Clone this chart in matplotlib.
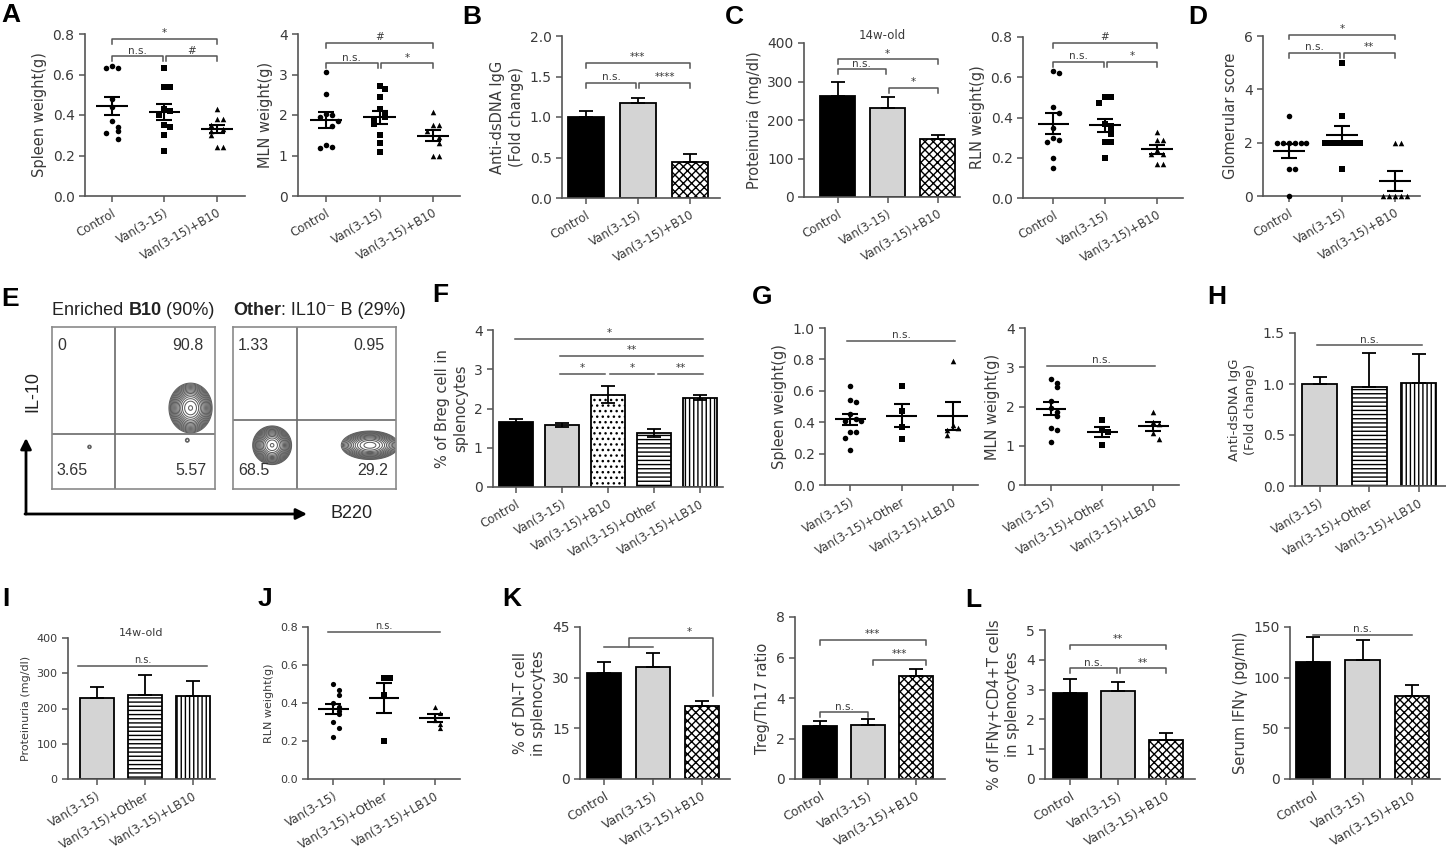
import numpy as np
import matplotlib
matplotlib.use("Agg")
import matplotlib.pyplot as plt

plt.rcParams["font.family"] = ["DejaVu Sans"]
plt.rcParams["hatch.linewidth"] = 1.0

W, H = 1446, 861
AX = "#555555"
TXT = "#3a3a3a"
GREY = "#d4d4d4"
SANS = ["Liberation Sans", "DejaVu Sans"]

# =========================================================
# DATA
# =========================================================

grp3 = ["Control", "Van(3-15)", "Van(3-15)+B10"]
grp3b = ["Van(3-15)", "Van(3-15)+Other", "Van(3-15)+LB10"]
grp5 = ["Control", "Van(3-15)", "Van(3-15)+B10", "Van(3-15)+Other", "Van(3-15)+LB10"]

# A
a_spleen_ctrl = [0.64, 0.63, 0.63, 0.48, 0.44, 0.37, 0.34, 0.32, 0.31, 0.28]
a_spleen_van = [0.63, 0.54, 0.54, 0.43, 0.42, 0.40, 0.35, 0.34, 0.30, 0.22]
a_spleen_b10 = [0.43, 0.38, 0.38, 0.35, 0.33, 0.32, 0.30, 0.24, 0.24]
a_mln_ctrl = [3.05, 2.53, 2.02, 2.00, 1.95, 1.85, 1.72, 1.25, 1.20, 1.18]
a_mln_van = [2.72, 2.65, 2.45, 2.15, 2.00, 1.95, 1.85, 1.78, 1.50, 1.30, 1.08]
a_mln_b10 = [2.08, 1.75, 1.75, 1.60, 1.46, 1.30, 1.00, 1.00]

# B
b_igg_mean = [1.00, 1.17, 0.44]
b_igg_err = [0.07, 0.07, 0.10]

# C
c_prot_mean = [262, 230, 150]
c_prot_err = [37, 30, 10]
c_rln_ctrl = [0.63, 0.62, 0.45, 0.42, 0.35, 0.30, 0.29, 0.28, 0.20, 0.15]
c_rln_van = [0.50, 0.50, 0.47, 0.37, 0.36, 0.33, 0.32, 0.28, 0.28, 0.20]
c_rln_b10 = [0.33, 0.29, 0.29, 0.24, 0.22, 0.22, 0.17, 0.17]

# D
d_ctrl = [3, 2, 2, 2, 2, 2, 2, 1, 1, 0]
d_van = [5, 3, 2, 2, 2, 2, 2, 2, 2, 1]
d_b10 = [2, 2, 0, 0, 0, 0, 0]

# E  (population centre x, centre y, spread x, spread y, weight) in gate units
e_b10_pops = [(0.85, 0.50, 0.05, 0.058, 1.0), (0.23, 0.26, 0.012, 0.012, 0.045), (0.83, 0.30, 0.012, 0.012, 0.045)]
e_other_pops = [(0.24, 0.27, 0.045, 0.045, 1.0), (0.84, 0.27, 0.07, 0.035, 0.7)]
e_b10_quads = ["0", "90.8", "3.65", "5.57"]
e_other_quads = ["1.33", "0.95", "68.5", "29.2"]

# F
f_breg_mean = [1.65, 1.58, 2.35, 1.38, 2.28]
f_breg_err = [0.09, 0.05, 0.22, 0.10, 0.07]

# G
g_spleen_van = [0.63, 0.54, 0.53, 0.45, 0.42, 0.41, 0.41, 0.34, 0.34, 0.30, 0.22]
g_spleen_other = [0.63, 0.47, 0.37, 0.29]
g_spleen_lb10 = [0.79, 0.38, 0.36, 0.35, 0.32]
g_mln_van = [2.70, 2.60, 2.50, 2.15, 1.95, 1.85, 1.75, 1.45, 1.40, 1.10]
g_mln_other = [1.65, 1.40, 1.35, 1.02]
g_mln_lb10 = [1.85, 1.60, 1.55, 1.32, 1.17]

# H
h_igg_mean = [1.00, 0.97, 1.01]
h_igg_err = [0.07, 0.33, 0.28]

# I
i_prot_mean = [230, 237, 235]
i_prot_err = [30, 58, 42]

# J
j_rln_van = [0.50, 0.47, 0.44, 0.40, 0.38, 0.36, 0.34, 0.30, 0.27, 0.22]
j_rln_other = [0.53, 0.53, 0.44, 0.20]
j_rln_lb10 = [0.38, 0.35, 0.31, 0.29, 0.27]

# K
k_dnt_mean = [31.5, 33.2, 21.5]
k_dnt_err = [3.0, 4.0, 1.5]
k_ratio_mean = [2.6, 2.65, 5.1]
k_ratio_err = [0.25, 0.30, 0.35]

# L
l_ifn_mean = [2.9, 2.95, 1.3]
l_ifn_err = [0.45, 0.30, 0.25]
l_serum_mean = [115, 117, 82]
l_serum_err = [25, 20, 11]

# =========================================================
# HELPERS
# =========================================================

fig = plt.figure(figsize=(W / 100, H / 100), dpi=100)
ov = fig.add_axes([0, 0, 1, 1])
ov.set_xlim(0, W)
ov.set_ylim(H, 0)
ov.axis("off")

BAR = {"ctrl": ("black", ""), "van": (GREY, ""), "b10": ("white", "xxxx"),
       "dots": ("white", "..."), "other": ("white", "----"), "lb10": ("white", "||||")}


def panel(x0, x1, ytop, ybot, xlim, ylim, yticks, ylabel, xlabels,
          lab_fs=8.5, tick_fs=10, ylab_fs=10.5):
    ax = fig.add_axes([x0 / W, 1 - ybot / H, (x1 - x0) / W, (ybot - ytop) / H])
    ax.patch.set_visible(False)
    ax.spines[["top", "right"]].set_visible(False)
    for s in ("left", "bottom"):
        ax.spines[s].set_color(AX)
        ax.spines[s].set_linewidth(1.2)
    ax.set_xlim(xlim)
    ax.set_ylim(ylim)
    ax.set_yticks([float(t) for t in yticks])
    ax.set_yticklabels(yticks)
    ax.set_xticks(range(len(xlabels)))
    ax.set_xticklabels(xlabels, rotation=30, ha="right", va="top",
                       rotation_mode="anchor", fontsize=lab_fs)
    ax.tick_params(axis="both", colors=AX, labelcolor=TXT, length=4, width=1.1)
    ax.tick_params(axis="y", labelsize=tick_fs)
    ax.set_ylabel(ylabel, fontsize=ylab_fs, color=TXT, linespacing=1.3)
    return ax


def swarm(vals, span, dx=0.11, tol=0.045):
    offs = np.zeros(len(vals))
    for i in range(len(vals)):
        n = int(np.sum(np.abs(vals[:i] - vals[i]) < tol * span))
        offs[i] = ((n + 1) // 2) * dx * (1 if n % 2 else -1)
    return offs


def dots(ax, groups, markers, ms=16):
    span = ax.get_ylim()[1]
    for i, (vals, m) in enumerate(zip(groups, markers)):
        v = np.asarray(vals, dtype=float)
        ax.scatter(i + swarm(v, span), v, marker=m, s=ms, color="black",
                   linewidths=0, zorder=3, clip_on=False)
        mu = v.mean()
        se = v.std(ddof=1) / np.sqrt(len(v))
        ax.hlines(mu, i - 0.3, i + 0.3, color="black", lw=1.5, zorder=4)
        ax.errorbar(i, mu, yerr=se, fmt="none", ecolor="black", elinewidth=1.5,
                    capsize=5.5, capthick=1.5, zorder=4)


def bars(ax, means, errs, styles, both=False, w=0.68):
    x = np.arange(len(means))
    for xi, m, key in zip(x, means, styles):
        fc, hatch = BAR[key]
        ax.bar(xi, m, width=w, color=fc, edgecolor="black", linewidth=1.3,
               hatch=hatch, zorder=2)
    lo = np.asarray(errs) if both else np.zeros(len(errs))
    ax.errorbar(x, means, yerr=[lo, errs], fmt="none", ecolor="black",
                elinewidth=1.3, capsize=5, capthick=1.3, zorder=3)


def bracket(ax, x1, x2, y, txt, tick=True, fs=7.5, tx=None):
    top = ax.get_ylim()[1]
    h = 0.03 * top
    if tick:
        ax.plot([x1, x1, x2, x2], [y - h, y, y, y - h], color=AX, lw=1.1, clip_on=False)
    else:
        ax.plot([x1, x2], [y, y], color=AX, lw=1.1, clip_on=False)
    ax.text((x1 + x2) / 2 if tx is None else tx, y + 0.004 * top, txt, ha="center",
            va="bottom", fontsize=fs, color=TXT, clip_on=False)


def flow(x0, x1, ytop, ybot, pops, vx, hy, quads):
    ax = fig.add_axes([x0 / W, 1 - ybot / H, (x1 - x0) / W, (ybot - ytop) / H])
    ax.set_xlim(0, 1)
    ax.set_ylim(0, 1)
    ax.set_xticks([])
    ax.set_yticks([])
    for s in ax.spines.values():
        s.set_color("#8a8a8a")
        s.set_linewidth(1.2)
    g = np.linspace(0, 1, 300)
    xx, yy = np.meshgrid(g, g)
    z = np.zeros_like(xx)
    for cx, cy, sx, sy, w in pops:
        z += w * np.exp(-0.5 * ((xx - cx) / sx) ** 2 - 0.5 * ((yy - cy) / sy) ** 2)
    ax.contour(xx, yy, z, levels=np.geomspace(0.03, 0.97, 16), colors="#5e5e5e",
               linewidths=0.75)
    ax.axvline(vx, color="#6a6a6a", lw=1.2)
    ax.axhline(hy, color="#6a6a6a", lw=1.2)
    kw = dict(fontsize=11.5, family=SANS, color="#333333")
    ax.text(0.03, 0.93, quads[0], ha="left", va="top", **kw)
    ax.text(0.93, 0.93, quads[1], ha="right", va="top", **kw)
    ax.text(0.03, 0.07, quads[2], ha="left", va="bottom", **kw)
    ax.text(0.95, 0.07, quads[3], ha="right", va="bottom", **kw)
    return ax


def rich(x, y, parts, fs=13):
    prev = None
    for txt, wt in parts:
        kw = dict(fontsize=fs, family=SANS, fontweight=wt, color="#222222", va="bottom")
        if prev is None:
            prev = ov.text(x, y, txt, ha="left", **kw)
        else:
            prev = ov.annotate(txt, xy=(1, 0), xycoords=prev, ha="left", **kw)


# =========================================================
# ROW 1
# =========================================================

ax = panel(85, 245, 34, 196, (-0.51, 2.53), (0, 0.8), ["0.0", "0.2", "0.4", "0.6", "0.8"],
           "Spleen weight(g)", grp3)
dots(ax, [a_spleen_ctrl, a_spleen_van, a_spleen_b10], ["o", "s", "^"])
bracket(ax, 0, 2, 0.775, "*")
bracket(ax, 0, 0.97, 0.69, "n.s.")
bracket(ax, 1.03, 2, 0.69, "#")

ax = panel(298, 460, 34, 196, (-0.52, 2.5), (0, 4), ["0", "1", "2", "3", "4"],
           "MLN weight(g)", grp3)
dots(ax, [a_mln_ctrl, a_mln_van, a_mln_b10], ["o", "s", "^"])
bracket(ax, 0, 2, 3.78, "#")
bracket(ax, 0, 0.97, 3.28, "n.s.")
bracket(ax, 1.03, 2, 3.28, "*")

ax = panel(562, 720, 36, 198, (-0.46, 2.58), (0, 2), ["0.0", "0.5", "1.0", "1.5", "2.0"],
           "Anti-dsDNA IgG\n(Fold change)", grp3)
bars(ax, b_igg_mean, b_igg_err, ["ctrl", "van", "b10"], w=0.69)
bracket(ax, 0, 2, 1.67, "***")
bracket(ax, 0, 0.97, 1.42, "n.s.")
bracket(ax, 1.03, 2, 1.42, "****")

ax = panel(804, 960, 43, 197, (-0.67, 2.45), (0, 400), ["0", "100", "200", "300", "400"],
           "Proteinuria (mg/dl)", grp3)
bars(ax, c_prot_mean, c_prot_err, ["ctrl", "van", "b10"], w=0.69)
bracket(ax, 0, 2, 358, "*")
bracket(ax, 0, 0.97, 332, "n.s.")
bracket(ax, 1.03, 2, 283, "*")
ax.set_title("14w-old", fontsize=8.5, color=TXT, pad=3)

ax = panel(1023, 1183, 37, 198, (-0.58, 2.5), (0, 0.8), ["0.0", "0.2", "0.4", "0.6", "0.8"],
           "RLN weight(g)", grp3)
dots(ax, [c_rln_ctrl, c_rln_van, c_rln_b10], ["o", "s", "^"])
bracket(ax, 0, 2, 0.77, "#")
bracket(ax, 0, 0.97, 0.676, "n.s.")
bracket(ax, 1.03, 2, 0.676, "*")

ax = panel(1263, 1420, 36, 196, (-0.49, 2.47), (0, 6), ["0", "2", "4", "6"],
           "Glomerular score", grp3)
dots(ax, [d_ctrl, d_van, d_b10], ["o", "s", "^"])
bracket(ax, 0, 2, 6.05, "*")
bracket(ax, 0, 0.97, 5.36, "n.s.")
bracket(ax, 1.03, 2, 5.36, "**")

# =========================================================
# ROW 2
# =========================================================

flow(52, 215, 327, 489, e_b10_pops, 0.387, 0.34, e_b10_quads)
flow(233, 396, 327, 489, e_other_pops, 0.39, 0.426, e_other_quads)
rich(52, 319, [("Enriched ", "normal"), ("B10", "bold"), (" (90%)", "normal")])
rich(233, 319, [("Other", "bold"), (": IL10\u207b B (29%)", "normal")])
ov.annotate("", xy=(26, 438), xytext=(26, 514),
            arrowprops=dict(arrowstyle="-|>", lw=2, color="black", mutation_scale=16, shrinkA=0, shrinkB=0))
ov.annotate("", xy=(307, 514), xytext=(25, 514),
            arrowprops=dict(arrowstyle="-|>", lw=2, color="black", mutation_scale=16, shrinkA=0, shrinkB=0))
ov.text(330, 514, "B220", fontsize=13, family=SANS, color="#222222", ha="left", va="center")
ov.text(33, 392, "IL-10", fontsize=13, family=SANS, color="#222222", ha="center", va="center", rotation=90)

ax = panel(493, 723, 330, 487, (-0.5, 4.5), (0, 4), ["0", "1", "2", "3", "4"],
           "% of Breg cell in\nsplenocytes", grp5)
bars(ax, f_breg_mean, f_breg_err, ["ctrl", "van", "dots", "other", "lb10"], both=True, w=0.72)
bracket(ax, -0.02, 4.07, 3.77, "*", tick=False)
bracket(ax, 0.96, 4.07, 3.34, "**", tick=False)
bracket(ax, 0.96, 1.93, 2.88, "*", tick=False)
bracket(ax, 2.04, 3.0, 2.88, "*", tick=False)
bracket(ax, 3.08, 4.07, 2.88, "**", tick=False)

ax = panel(825, 978, 328, 485, (-0.49, 2.49), (0, 1.0), ["0.0", "0.2", "0.4", "0.6", "0.8", "1.0"],
           "Spleen weight(g)", grp3b)
dots(ax, [g_spleen_van, g_spleen_other, g_spleen_lb10], ["o", "s", "^"])
bracket(ax, -0.06, 2.04, 0.92, "n.s.", tick=False)

ax = panel(1025, 1179, 328, 485, (-0.51, 2.5), (0, 4), ["0", "1", "2", "3", "4"],
           "MLN weight(g)", grp3b)
dots(ax, [g_mln_van, g_mln_other, g_mln_lb10], ["o", "s", "^"])
bracket(ax, -0.08, 2.04, 3.03, "n.s.", tick=False)

ax = panel(1295, 1446, 333, 486, (-0.5, 2.55), (0, 1.5), ["0.0", "0.5", "1.0", "1.5"],
           "Anti-dsDNA IgG\n(Fold change)", grp3b, ylab_fs=9.5)
bars(ax, h_igg_mean, h_igg_err, ["van", "other", "lb10"], w=0.7)
bracket(ax, -0.06, 2.06, 1.38, "n.s.", tick=False)

# =========================================================
# ROW 3
# =========================================================

ax = panel(68, 215, 638, 779, (-0.6, 2.46), (0, 400), ["0", "100", "200", "300", "400"],
           "Proteinuria (mg/dl)", grp3b, lab_fs=8.5, tick_fs=8, ylab_fs=8)
bars(ax, i_prot_mean, i_prot_err, ["van", "other", "lb10"], w=0.72)
bracket(ax, -0.4, 2.3, 321, "n.s.", tick=False, fs=7)
ax.set_title("14w-old", fontsize=8, color=TXT, pad=1)

ax = panel(308, 460, 627, 779, (-0.5, 2.5), (0, 0.8), ["0.0", "0.2", "0.4", "0.6", "0.8"],
           "RLN weight(g)", grp3b, lab_fs=8.5, tick_fs=8, ylab_fs=8)
dots(ax, [j_rln_van, j_rln_other, j_rln_lb10], ["o", "s", "^"], ms=14)
bracket(ax, -0.1, 2.1, 0.774, "n.s.", tick=False, fs=7)

ax = panel(580, 730, 627, 779, (-0.49, 2.57), (0, 45), ["0", "15", "30", "45"],
           "% of DN-T cell\nin splenocytes", grp3, lab_fs=9)
bars(ax, k_dnt_mean, k_dnt_err, ["ctrl", "van", "b10"], w=0.7)
ax.plot([0, 1], [39, 39], color=AX, lw=1.1, clip_on=False)
ax.plot([0.5, 0.5, 2.22, 2.22], [39, 41.8, 41.8, 24.5], color=AX, lw=1.1, clip_on=False)
ax.text(1.75, 41.9, "*", ha="center", va="bottom", fontsize=7.5, color=TXT)

ax = panel(795, 945, 617, 779, (-0.52, 2.6), (0, 8), ["0", "2", "4", "6", "8"],
           "Treg/Th17 ratio", grp3, lab_fs=9)
bars(ax, k_ratio_mean, k_ratio_err, ["ctrl", "van", "b10"], w=0.7)
bracket(ax, 0, 2.2, 6.86, "***")
bracket(ax, 1.1, 2.2, 5.88, "***")
bracket(ax, 0, 1, 3.3, "n.s.")

ax = panel(1045, 1195, 630, 779, (-0.52, 2.6), (0, 5), ["0", "1", "2", "3", "4", "5"],
           "% of IFN\u03b3+CD4+T cells\nin splenocytes", grp3, lab_fs=9)
bars(ax, l_ifn_mean, l_ifn_err, ["ctrl", "van", "b10"], w=0.7)
bracket(ax, 0, 2, 4.5, "**")
bracket(ax, 0, 0.97, 3.72, "n.s.")
bracket(ax, 1.03, 2, 3.72, "**")

ax = panel(1290, 1440, 627, 779, (-0.47, 2.57), (0, 150), ["0", "50", "100", "150"],
           "Serum IFN\u03b3 (pg/ml)", grp3, lab_fs=9)
bars(ax, l_serum_mean, l_serum_err, ["ctrl", "van", "b10"], w=0.7)
bracket(ax, 0, 2, 142, "n.s.", tick=False)

# =========================================================
# PANEL LETTERS
# =========================================================

letters = {"A": (1, 3), "B": (462, 5), "C": (725, 5), "D": (1188, 5),
           "E": (1, 287), "F": (432, 283), "G": (752, 285), "H": (1207, 285),
           "I": (2, 587), "J": (258, 587), "K": (502, 587), "L": (965, 588)}
for k, (x, y) in letters.items():
    ov.text(x, y, k, fontsize=19, fontweight="bold", family=SANS, ha="left", va="top")

fig.savefig("out.png", dpi=100)
